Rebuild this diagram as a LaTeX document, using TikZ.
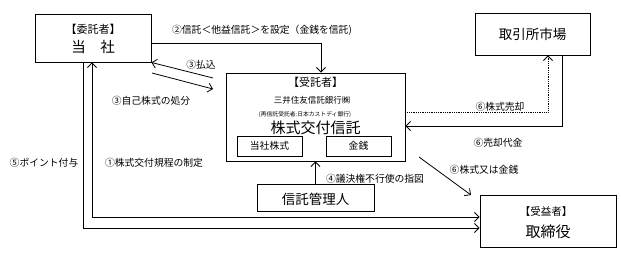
\documentclass[tikz,border=0pt]{standalone}
\usepackage{fontspec}
\newfontfamily\jpfont{Noto Sans CJK JP}
\usetikzlibrary{arrows.meta}

\tikzset{
  box/.style={draw, line width=0.9pt, inner sep=0pt},
  lbl/.style={font=\jpfont\fontsize{9.8}{11}\selectfont, inner sep=1pt},
  flow/.style={line width=0.8pt, -{Straight Barb[length=4.5pt,width=9pt]}},
}

\begin{document}
\begin{tikzpicture}[x=1pt,y=-1pt]
\useasboundingbox (0,0) rectangle (621,254);

        % Main boxes
        \node[box, minimum width=116pt, minimum height=48pt] (itaku) at (93,38) {};
        \node[box, minimum width=115pt, minimum height=42pt] (torihiki) at (532.5,34) {};
        \node[box, minimum width=179pt, minimum height=88pt] (jutaku) at (315.5,117) {};
        \node[box, minimum width=65pt, minimum height=20pt] (kabu) at (269.5,146) {};
        \node[box, minimum width=65pt, minimum height=20pt] (kinsen) at (358.5,146) {};
        \node[box, minimum width=117pt, minimum height=27pt] (kanri) at (315.5,197.5) {};
        \node[box, minimum width=136pt, minimum height=52pt] (jueki) at (548,221) {};

        % Texts in the boxes
        \node[lbl, font=\jpfont\fontsize{11}{12}\selectfont] (itakuT) at (93,29) {【委託者】};
        \node[lbl, font=\jpfont\fontsize{14.5}{16}\selectfont] (itakuN) at (93,47) {当　社};
        \node[lbl, font=\jpfont\fontsize{13.5}{15}\selectfont] (torihikiN) at (532.5,34) {取引所市場};
        \node[lbl, font=\jpfont\fontsize{11}{12}\selectfont] (jutakuT) at (315.5,82) {【受託者】};
        \node[lbl, font=\jpfont\fontsize{8.5}{9}\selectfont] (bank) at (312,100) {三井住友信託銀行㈱};
        \node[lbl, font=\jpfont\fontsize{5.8}{6}\selectfont] (rebank) at (305,115) {(再信託受託者:日本カストディ銀行)};
        \node[lbl, font=\jpfont\fontsize{15}{16}\selectfont] (trust) at (315.5,128) {株式交付信託};
        \node[lbl] (kabuN) at (kabu) {当社株式};
        \node[lbl] (kinsenN) at (kinsen) {金銭};
        \node[lbl, font=\jpfont\fontsize{13.5}{15}\selectfont] (kanriN) at (315.5,199) {信託管理人};
        \node[lbl, font=\jpfont\fontsize{10.5}{12}\selectfont] (juekiT) at (546,212) {【受益者】};
        \node[lbl, font=\jpfont\fontsize{15}{16}\selectfont] (juekiN) at (548,232) {取締役};

        % Corner points of the connectors
        \coordinate (c2) at (321,43);
        \coordinate (p3a) at (213,78);
        \coordinate (p3b) at (152,73);
        \coordinate (p3c) at (213,89);
        \coordinate (c6) at (548,112);
        \coordinate (c7) at (562,126);
        \coordinate (p6a) at (419,157);
        \coordinate (p6b) at (471,195);
        \coordinate (c1) at (92,217);
        \coordinate (c5) at (83,228);

        % Connectors
        \draw[flow] (itaku.east |- c2) -| (c2 |- jutaku.north);
        \draw[flow] (p3a) -- (itaku.south east);
        \draw[flow] (p3b) -- (p3c);
        \draw[flow, densely dotted] (jutaku.east |- c6) -| (c6 |- torihiki.south);
        \draw[flow] (c7 |- torihiki.south) |- (jutaku.east |- c7);
        \draw[flow] (p6a) -- (p6b);
        \draw[flow] (kanri.north) -- (kanri.north |- jutaku.south);
        \draw[flow, {Straight Barb[length=4.5pt,width=9pt]}-{Straight Barb[length=4.5pt,width=9pt]}]
          (itaku.south -| c1) |- (jueki.west |- c1);
        \draw[flow] (itaku.south -| c5) |- (jueki.west |- c5);

        % Connector labels
        \node[lbl] (l2) at (262,30) {②信託＜他益信託＞を設定（金銭を信託)};
        \node[lbl] (l3a) at (201,65) {③払込};
        \node[lbl] (l3b) at (151,101) {③自己株式の処分};
        \node[lbl] (l6a) at (500,107) {⑥株式売却};
        \node[lbl] (l6b) at (498,143) {⑥売却代金};
        \node[lbl] (l6c) at (484,170) {⑥株式又は金銭};
        \node[lbl] (l4) at (375,179) {④議決権不行使の指図};
        \node[lbl] (l1) at (154,163) {①株式交付規程の制定};
        \node[lbl] (l5) at (44,163) {⑤ポイント付与};

\end{tikzpicture}
\end{document}
